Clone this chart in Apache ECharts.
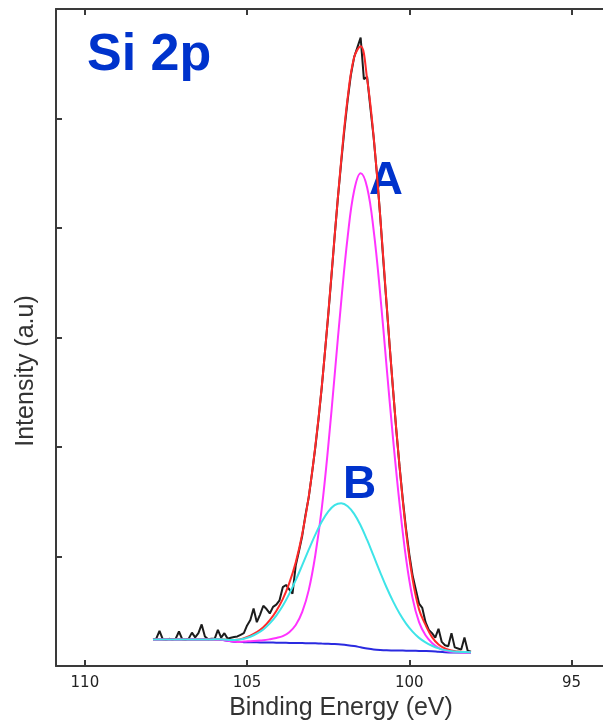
<!DOCTYPE html>
<html lang="en">
<head>
    <meta charset="UTF-8">
    <title>Si 2p XPS spectrum</title>
    <style>
        * { margin: 0; padding: 0; box-sizing: border-box; }
        body { background: #fff; }
        #chart { width: 603px; height: 726px; }
    </style>
</head>
<body>
    <div id="chart"></div>

    <script src="https://cdn.jsdelivr.net/npm/echarts@6/dist/echarts.min.js"></script>
    <script>
        // binding energy grid of the fitted curves (eV)
        const energyFit = [107.9, 107.7, 107.5, 107.3, 107.1, 106.9, 106.7, 106.5, 106.3, 106.1,
            105.9, 105.7, 105.5, 105.3, 105.1, 104.9, 104.7, 104.5, 104.3, 104.1,
            103.9, 103.7, 103.5, 103.3, 103.1, 102.9, 102.7, 102.5, 102.3, 102.1,
            101.9, 101.7, 101.5, 101.3, 101.1, 100.9, 100.7, 100.5, 100.3, 100.1,
            99.9, 99.7, 99.5, 99.3, 99.1, 98.9, 98.7, 98.5, 98.3, 98.1];

        // Shirley background (blue)
        const background = [0.242, 0.242, 0.242, 0.242, 0.242, 0.242, 0.242, 0.242, 0.242, 0.242,
            0.242, 0.236, 0.226, 0.220, 0.218, 0.217, 0.216, 0.215, 0.214, 0.213,
            0.212, 0.211, 0.210, 0.209, 0.208, 0.207, 0.205, 0.203, 0.200, 0.196,
            0.190, 0.182, 0.171, 0.160, 0.151, 0.146, 0.143, 0.142, 0.141, 0.140,
            0.139, 0.138, 0.137, 0.135, 0.130, 0.126, 0.124, 0.124, 0.124, 0.124];

        // component A (magenta)
        const peakA = [0.242, 0.242, 0.242, 0.242, 0.242, 0.242, 0.242, 0.242, 0.242, 0.242,
            0.242, 0.236, 0.226, 0.220, 0.223, 0.227, 0.231, 0.235, 0.244, 0.256,
            0.273, 0.309, 0.374, 0.494, 0.693, 1.007, 1.435, 2.003, 2.660, 3.326,
            3.920, 4.342, 4.501, 4.370, 3.981, 3.406, 2.733, 2.072, 1.481, 0.980,
            0.620, 0.400, 0.280, 0.210, 0.166, 0.141, 0.130, 0.126, 0.124, 0.124];

        // component B (cyan)
        const peakB = [0.242, 0.242, 0.242, 0.242, 0.242, 0.242, 0.242, 0.242, 0.242, 0.242,
            0.245, 0.242, 0.237, 0.239, 0.249, 0.267, 0.295, 0.334, 0.389, 0.460,
            0.550, 0.659, 0.784, 0.921, 1.062, 1.198, 1.317, 1.410, 1.469, 1.486,
            1.459, 1.389, 1.283, 1.151, 1.005, 0.858, 0.717, 0.590, 0.479, 0.387,
            0.314, 0.257, 0.216, 0.185, 0.161, 0.145, 0.135, 0.130, 0.127, 0.126];

        // fit envelope (red)
        const envelope = [0.242, 0.242, 0.242, 0.242, 0.242, 0.242, 0.242, 0.242, 0.242, 0.242,
            0.245, 0.242, 0.237, 0.239, 0.254, 0.277, 0.310, 0.354, 0.419, 0.503,
            0.611, 0.757, 0.948, 1.206, 1.547, 1.998, 2.547, 3.210, 3.929, 4.616,
            5.189, 5.560, 5.660, 5.361, 4.835, 4.118, 3.307, 2.520, 1.819, 1.227,
            0.794, 0.517, 0.375, 0.264, 0.197, 0.160, 0.141, 0.132, 0.127, 0.126];

        // measured spectrum (black), 0.1 eV steps
        const energyRaw = [107.9, 107.8, 107.7, 107.6, 107.5, 107.4, 107.3, 107.2, 107.1, 107.0,
            106.9, 106.8, 106.7, 106.6, 106.5, 106.4, 106.3, 106.2, 106.1, 106.0,
            105.9, 105.8, 105.7, 105.6, 105.5, 105.4, 105.3, 105.2, 105.1, 105.0,
            104.9, 104.8, 104.7, 104.6, 104.5, 104.4, 104.3, 104.2, 104.1, 104.0,
            103.9, 103.8, 103.7, 103.6, 103.5, 103.4, 103.3, 103.2, 103.1, 103.0,
            102.9, 102.8, 102.7, 102.6, 102.5, 102.4, 102.3, 102.2, 102.1, 102.0,
            101.9, 101.8, 101.7, 101.6, 101.5, 101.4, 101.3, 101.2, 101.1, 101.0,
            100.9, 100.8, 100.7, 100.6, 100.5, 100.4, 100.3, 100.2, 100.1, 100.0,
            99.9, 99.8, 99.7, 99.6, 99.5, 99.4, 99.3, 99.2, 99.1, 99.0,
            98.9, 98.8, 98.7, 98.6, 98.5, 98.4, 98.3, 98.2, 98.1];
        const rawCounts = [0.245, 0.250, 0.320, 0.245, 0.240, 0.248, 0.242, 0.250, 0.315, 0.245,
            0.240, 0.250, 0.305, 0.262, 0.300, 0.380, 0.270, 0.245, 0.250, 0.248,
            0.330, 0.260, 0.300, 0.250, 0.258, 0.265, 0.270, 0.285, 0.300, 0.370,
            0.420, 0.525, 0.400, 0.470, 0.550, 0.520, 0.480, 0.540, 0.560, 0.600,
            0.720, 0.740, 0.700, 0.660, 0.920, 1.050, 1.190, 1.380, 1.540, 1.760,
            1.990, 2.250, 2.540, 2.870, 3.200, 3.560, 3.930, 4.280, 4.600, 4.900,
            5.170, 5.400, 5.560, 5.650, 5.740, 5.360, 5.380, 5.100, 4.830, 4.500,
            4.120, 3.700, 3.300, 2.900, 2.520, 2.150, 1.820, 1.520, 1.250, 1.020,
            0.830, 0.700, 0.570, 0.530, 0.400, 0.330, 0.300, 0.260, 0.340, 0.220,
            0.190, 0.180, 0.300, 0.170, 0.160, 0.150, 0.260, 0.140, 0.130];

        const xTicks = [95, 100, 105, 110];

        const pairs = (xs, ys) => xs.map((x, i) => [x, ys[i]]);
        const axisColor = '#3a3a3a';
        const textFont = '"Liberation Sans", Arial, sans-serif';

        const chart = echarts.init(document.getElementById('chart'), null, { renderer: 'canvas' });

        function line(name, xs, ys, color, smooth) {
            return {
                name: name,
                type: 'line',
                data: pairs(xs, ys),
                showSymbol: false,
                smooth: smooth,
                lineStyle: { color: color, width: 2 },
                emphasis: { disabled: true },
                z: 2
            };
        }

        const option = {
            animation: false,
            grid: { left: 56, top: 9, right: 0, bottom: 60 },
            xAxis: [
                {
                    type: 'value',
                    inverse: true,
                    min: 94.03,
                    max: 110.89,
                    axisLine: { onZero: false, lineStyle: { color: axisColor, width: 2 } },
                    axisTick: { inside: true, length: 6, customValues: xTicks, lineStyle: { color: axisColor, width: 2 } },
                    axisLabel: {
                        customValues: xTicks,
                        margin: 10,
                        color: '#222',
                        fontFamily: '"DejaVu Sans", sans-serif',
                        fontSize: 15
                    },
                    splitLine: { show: false }
                },
                {
                    type: 'value',
                    position: 'top',
                    inverse: true,
                    min: 94.03,
                    max: 110.89,
                    axisLine: { onZero: false, lineStyle: { color: axisColor, width: 2 } },
                    axisTick: { inside: true, length: 6, customValues: xTicks, lineStyle: { color: axisColor, width: 2 } },
                    axisLabel: { show: false },
                    splitLine: { show: false }
                }
            ],
            yAxis: {
                type: 'value',
                min: 0,
                max: 6,
                interval: 1,
                axisLine: { show: true, onZero: false, lineStyle: { color: axisColor, width: 2 } },
                axisTick: { show: true, inside: true, length: 6, lineStyle: { color: axisColor, width: 2 } },
                axisLabel: { show: false },
                splitLine: { show: false }
            },
            series: [
                line('Background', energyFit, background, '#2a2ae0', 0.3),
                line('Raw', energyRaw, rawCounts, '#1c1c1c', false),
                line('Envelope', energyFit, envelope, '#ff2a2a', 0.4),
                line('A', energyFit, peakA, '#ff33ff', 0.4),
                line('B', energyFit, peakB, '#3ee4e8', 0.4)
            ],
            graphic: [
                {
                    type: 'text', x: 87, y: 56,
                    style: { text: 'Si 2p', fill: '#0033cc', font: 'bold 52px ' + textFont, align: 'left', verticalAlign: 'middle' }
                },
                {
                    type: 'text', x: 369, y: 181,
                    style: { text: 'A', fill: '#0033cc', font: 'bold 47px ' + textFont, align: 'left', verticalAlign: 'middle' }
                },
                {
                    type: 'text', x: 343, y: 485,
                    style: { text: 'B', fill: '#0033cc', font: 'bold 46px ' + textFont, align: 'left', verticalAlign: 'middle' }
                },
                {
                    type: 'text', x: 341, y: 708,
                    style: { text: 'Binding Energy (eV)', fill: '#333', font: '25px ' + textFont, align: 'center', verticalAlign: 'middle' }
                },
                {
                    type: 'text', x: 26, y: 371, rotation: Math.PI / 2,
                    style: { text: 'Intensity (a.u)', fill: '#333', font: '25px ' + textFont, align: 'center', verticalAlign: 'middle' }
                }
            ]
        };

        chart.setOption(option);
    </script>
</body>
</html>
